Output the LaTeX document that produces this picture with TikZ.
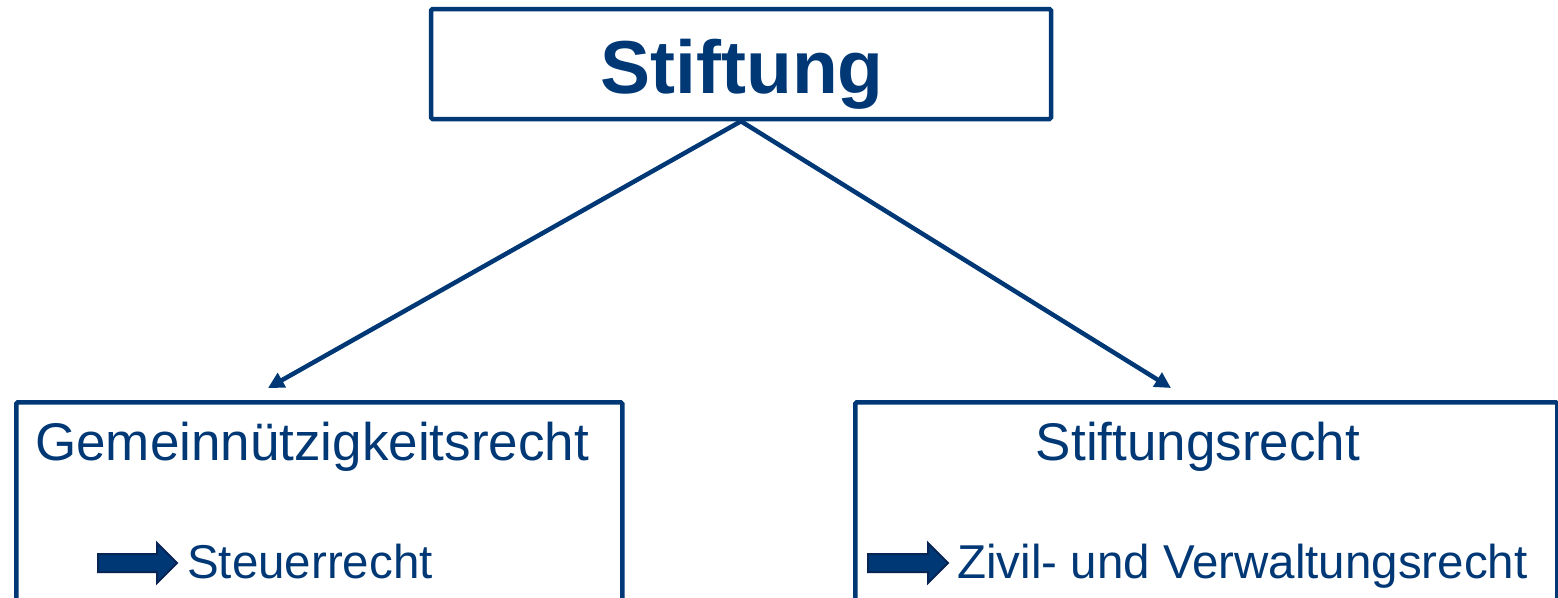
\documentclass[tikz,border=0pt]{standalone}
\usepackage{fontspec}
\setmainfont{Liberation Sans}
\usetikzlibrary{arrows.meta}
\definecolor{navy}{RGB}{0,56,118}
\definecolor{navydark}{RGB}{6,36,84}
\begin{document}
\begin{tikzpicture}[x=1pt,y=-1pt,
  box/.style={draw=navy, line width=4.5pt, rounded corners=1.5pt, inner sep=0pt, fill=white},
  conn/.style={draw=navy, line width=4.5pt, -{Triangle[length=16pt,width=16pt]}},
  lbl/.style={text=navy, inner sep=0pt, font=\fontsize{53}{60}\selectfont},
  lbls/.style={text=navy, inner sep=0pt, font=\fontsize{47.5}{56}\selectfont},
  blockarrow/.style={fill=navy, draw=navydark, line width=2pt, line join=miter}]
\useasboundingbox (0,0) rectangle (1558,597);
\clip (0,0) rectangle (1558,597);
% boxes
\node[box, minimum width=620pt, minimum height=110pt] (top) at (741,64) {};
\node[box, anchor=north west, minimum width=606pt, minimum height=240pt] (left) at (14,400) {};
\node[box, anchor=north west, minimum width=702pt, minimum height=240pt] (right) at (853,400) {};
% texts
\node[text=navy, inner sep=0pt, font=\fontsize{75}{80}\selectfont\bfseries, anchor=base] (ttl) at (742,93) {Stiftung};
\node[lbl, anchor=base west] (gem) at (35,460) {Gemeinnützigkeitsrecht};
\node[lbl, anchor=base] (sti) at (1198,460) {Stiftungsrecht};
\node[lbls, anchor=base west] (steu) at (187,578) {Steuerrecht};
\node[lbls, anchor=base west] (ziv) at (957,578) {Zivil- und Verwaltungsrecht};
% connectors
\coordinate (le) at (268,388);
\coordinate (re) at (1171,388);
\draw[conn] (top.south) -- (le);
\draw[conn] (top.south) -- (re);
% block arrows
\draw[blockarrow] (98,554) -- (157,554) -- (157,543) -- (177,563) -- (157,583) -- (157,572) -- (98,572) -- cycle;
\draw[blockarrow] (868,554) -- (928,554) -- (928,543) -- (948,563) -- (928,583) -- (928,572) -- (868,572) -- cycle;
\end{tikzpicture}
\end{document}
